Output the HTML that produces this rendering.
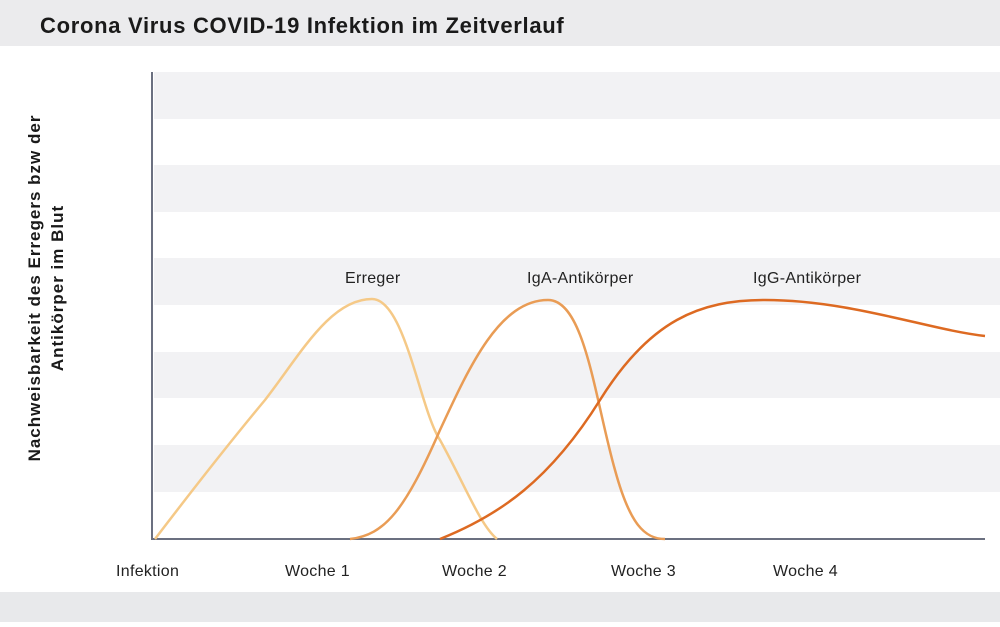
<!DOCTYPE html>
<html><head><meta charset="utf-8"><style>
body{margin:0;width:1000px;height:622px;background:#fff;font-family:"Liberation Sans","DejaVu Sans",sans-serif;overflow:hidden}
</style></head><body>
<svg width="1000" height="622" xmlns="http://www.w3.org/2000/svg">
<rect x="0" y="0" width="1000" height="46" fill="#ebebed"/>
<text x="40" y="33" font-size="22" font-weight="bold" fill="#1a1a1a" letter-spacing="0.7" font-family="Liberation Sans, sans-serif">Corona Virus COVID-19 Infektion im Zeitverlauf</text>
<rect x="0" y="592" width="1000" height="30" fill="#e8e9eb"/>
<g fill="#f2f2f4">
<rect x="154" y="72" width="846" height="47"/>
<rect x="154" y="165" width="846" height="47"/>
<rect x="154" y="258" width="846" height="47"/>
<rect x="154" y="352" width="846" height="46"/>
<rect x="154" y="445" width="846" height="47"/>
</g>
<line x1="152" y1="72" x2="152" y2="540" stroke="#6b7080" stroke-width="2"/>
<line x1="151" y1="539" x2="985" y2="539" stroke="#6b7080" stroke-width="2"/>
<path d="M155,539 C200,480 240,430 265,400 C300,355 330,299 372,299 C405,299 420,410 440,440 C465,485 480,525 497,539" fill="none" stroke="#f5c987" stroke-width="2.5"/>
<path d="M350,539 C385,535 405,510 440,430 C470,365 500,300 548,300 C585,300 595,400 615,470 C630,525 645,539 665,539" fill="none" stroke="#e99c55" stroke-width="2.5"/>
<path d="M440,539 C500,515 550,480 600,400 C650,320 700,300 765,300 C850,300 930,330 985,336" fill="none" stroke="#dd6a22" stroke-width="2.5"/>
<g font-size="16" fill="#222" letter-spacing="0.3">
<text x="345" y="283">Erreger</text>
<text x="527" y="283">IgA-Antikörper</text>
<text x="753" y="283">IgG-Antikörper</text>
<text x="116" y="576">Infektion</text>
<text x="285" y="576">Woche 1</text>
<text x="442" y="576">Woche 2</text>
<text x="611" y="576">Woche 3</text>
<text x="773" y="576">Woche 4</text>
</g>
<g font-size="17" font-weight="bold" fill="#1a1a1a" text-anchor="middle" letter-spacing="1">
<text transform="translate(40,288) rotate(-90)">Nachweisbarkeit des Erregers bzw der</text>
<text transform="translate(63,288) rotate(-90)">Antikörper im Blut</text>
</g>
</svg>
</body></html>
